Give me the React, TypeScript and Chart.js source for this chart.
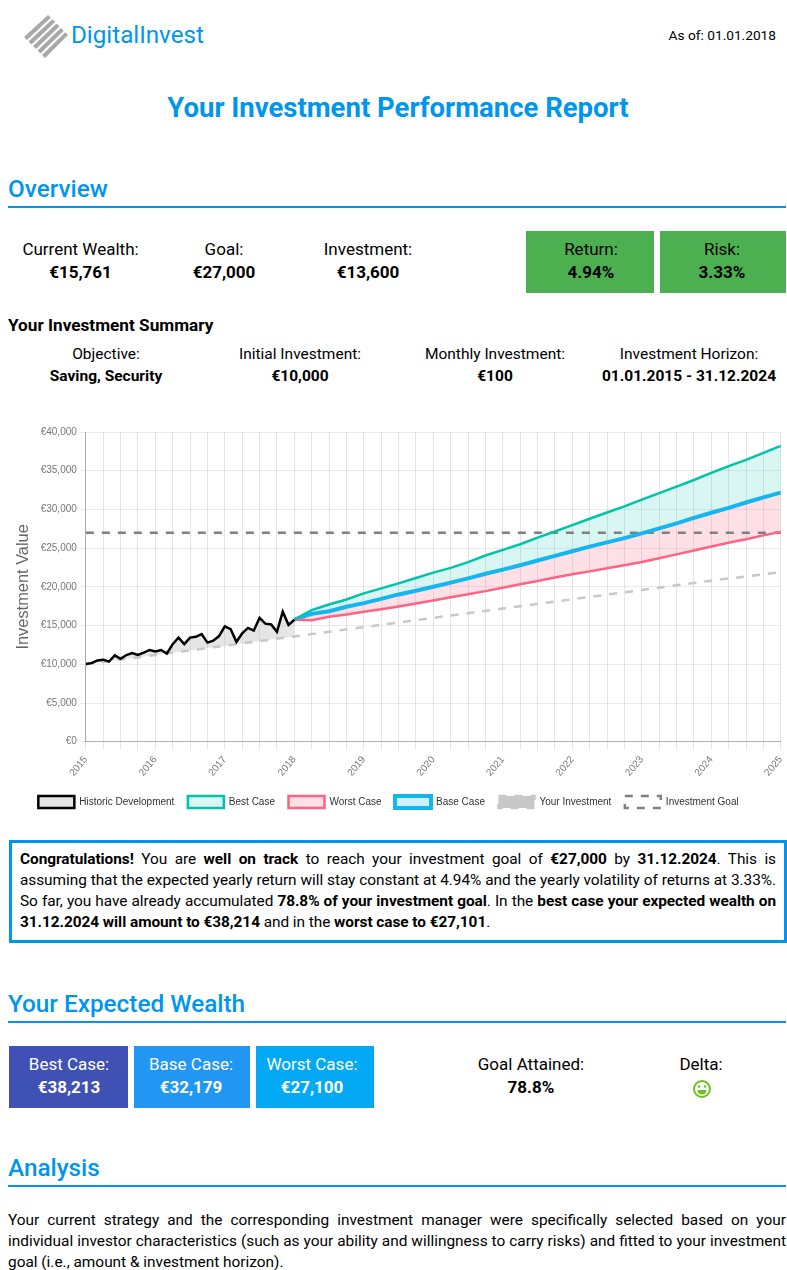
import React, { useEffect, useRef } from "react";
import { Chart, registerables } from "chart.js";

Chart.register(...registerables);

const historicMonths = [0,1,2,3,4,5,6,7,8,9,10,11,12,13,14,15,16,17,18,19,20,21,22,23,24,25,26,27,28,29,30,31,32,33,34,35,36];
const historicValues = [10050,10150,10500,10600,10350,11150,10700,11200,11450,11200,11500,11850,11650,11850,11400,12600,13450,12600,13450,13550,13900,12800,13050,13650,14900,14550,12900,14000,14700,14350,16000,15250,15150,14200,16800,15100,15761];
const forecastMonths = [36,39,42,45,48,51,54,57,60,63,66,69,72,75,78,81,84,87,90,93,96,99,102,105,108,111,114,117,120];
const bestValues = [15761,16990,17730,18377,19155,19800,20450,21150,21836,22450,23200,24050,24776,25500,26350,27150,27976,28800,29600,30400,31260,32100,32950,33800,34720,35600,36400,37300,38214];
const baseValues = [15761,16517,16860,17425,17900,18450,19025,19500,20020,20550,21100,21700,22225,22800,23400,24000,24600,25200,25750,26300,26900,27550,28200,28900,29570,30200,30900,31550,32180];
const worstValues = [15761,15700,16130,16430,16780,17100,17470,17850,18250,18650,19050,19450,19890,20350,20750,21200,21620,22000,22400,22800,23220,23700,24200,24700,25210,25700,26150,26650,27101];
const investmentMonths = [0,12,24,36,48,60,72,84,96,108,120];
const investmentValues = [10000,11200,12400,13600,14800,16000,17200,18400,19600,20800,21900];
const goalMonths = [0,120];
const goalValues = [27000,27000];
const yearLabels = ["2015","2016","2017","2018","2019","2020","2021","2022","2023","2024","2025"];

const overviewStats = [
  { label: "Current Wealth:", value: "€15,761", cx: 80.5 },
  { label: "Goal:", value: "€27,000", cx: 224 },
  { label: "Investment:", value: "€13,600", cx: 368 },
];
const summaryStats = [
  { label: "Objective:", value: "Saving, Security", cx: 106 },
  { label: "Initial Investment:", value: "€10,000", cx: 300 },
  { label: "Monthly Investment:", value: "€100", cx: 495 },
  { label: "Investment Horizon:", value: "01.01.2015 - 31.12.2024", cx: 689 },
];

const BLUE = "#0096ee";
const SANS = "'Liberation Sans', Arial, sans-serif";

function pts(xs: number[], ys: number[]) {
  return xs.map((x, i) => ({ x, y: ys[i] }));
}

const T = ({ x, y, w, align, size, bold, color, children, weight }: any) => (
  <div
    style={{
      position: "absolute",
      left: x,
      top: y,
      width: w,
      textAlign: align || "left",
      fontSize: size,
      fontWeight: weight || (bold ? 700 : 400),
      color: color || "#000",
      whiteSpace: "nowrap",
      lineHeight: `${Math.round(size * 1.3)}px`,
    }}
  >
    {children}
  </div>
);

const Stat = ({ cx, top, gap, size, label, value, color }: any) => (
  <>
    <T x={cx - 110} y={top} w={220} align="center" size={size} color={color}>{label}</T>
    <T x={cx - 110} y={top + gap} w={220} align="center" size={size} bold color={color}>{value}</T>
  </>
);

const Heading = ({ top, children }: any) => (
  <>
    <T x={8} y={top} size={24.3} weight={500} color={BLUE}>{children}</T>
    <div style={{ position: "absolute", left: 8, top: top + 33, width: 778, height: 2, background: BLUE }} />
  </>
);

const Box = ({ x, y, w, h, bg }: any) => (
  <div style={{ position: "absolute", left: x, top: y, width: w, height: h, background: bg }} />
);

const shiftLegend = {
  id: "shiftLegend",
  afterLayout(chart: any) {
    chart.legend.left -= 12.5;
    chart.legend.right -= 12.5;
  },
};

export default function App() {
  const ref = useRef<HTMLCanvasElement>(null);

  useEffect(() => {
    const chart = new Chart(ref.current!, {
      type: "line",
      plugins: [shiftLegend],
      data: {
        datasets: [
          { label: "Historic Development", data: pts(historicMonths, historicValues), borderColor: "#000", backgroundColor: "rgba(180,180,180,0.35)", borderWidth: 2.5, fill: 4, tension: 0, pointRadius: 0 },
          { label: "Best Case", data: pts(forecastMonths, bestValues), borderColor: "rgb(0,196,170)", backgroundColor: "rgba(0,196,170,0.15)", borderWidth: 2.5, fill: 3, tension: 0, pointRadius: 0 },
          { label: "Worst Case", data: pts(forecastMonths, worstValues), borderColor: "rgb(255,99,132)", backgroundColor: "rgba(255,99,132,0.2)", borderWidth: 2.5, fill: 3, tension: 0, pointRadius: 0 },
          { label: "Base Case", data: pts(forecastMonths, baseValues), borderColor: "rgb(20,182,240)", backgroundColor: "rgba(20,182,240,0.2)", borderWidth: 4, fill: false, tension: 0, pointRadius: 0 },
          { label: "Your Investment", data: pts(investmentMonths, investmentValues), borderColor: "rgb(200,200,200)", backgroundColor: "rgb(200,200,200)", borderWidth: 2.5, borderDash: [8, 8], fill: false, tension: 0, pointRadius: 0 },
          { label: "Investment Goal", data: pts(goalMonths, goalValues), borderColor: "rgb(128,128,128)", backgroundColor: "rgba(0,0,0,0)", borderWidth: 2.5, borderDash: [8, 8], fill: false, tension: 0, pointRadius: 0 },
        ],
      },
      options: {
        animation: false,
        responsive: false,
        maintainAspectRatio: false,
        parsing: false,
        layout: { padding: { left: 0, right: 0, top: 5, bottom: 0 } },
        plugins: {
          tooltip: { enabled: false },
          filler: { drawTime: "beforeDatasetsDraw" },
          legend: {
            position: "bottom",
            labels: { boxWidth: 36, boxHeight: 12, padding: 13.5, color: "#333", font: { size: 10, family: SANS } },
          },
        },
        scales: {
          x: {
            type: "linear",
            min: 0,
            max: 120,
            border: { color: "rgba(0,0,0,0.25)" },
            ticks: {
              stepSize: 3,
              autoSkip: false,
              maxRotation: 50,
              minRotation: 50,
              padding: 4,
              color: "#777",
              font: { size: 10, family: SANS },
              callback: (v: any) => (Number(v) % 12 === 0 ? yearLabels[Number(v) / 12] : ""),
            },
            grid: { color: "rgba(0,0,0,0.1)" },
          },
          y: {
            min: 0,
            max: 40000,
            border: { color: "rgba(0,0,0,0.25)" },
            title: { display: true, text: "Investment Value", color: "#666", padding: { top: 6, bottom: 4 }, font: { size: 16.4, family: SANS } },
            ticks: {
              stepSize: 5000,
              color: "#777",
              font: { size: 10, family: SANS },
              callback: (v: any) => "€" + Number(v).toLocaleString("en-US"),
            },
            grid: { color: "rgba(0,0,0,0.08)", tickLength: 6 },
          },
        },
      },
    } as any);
    return () => chart.destroy();
  }, []);

  return (
    <div style={{ position: "absolute", left: 0, top: 0, width: 787, height: 1270, overflow: "hidden", background: "#fff", fontFamily: "Roboto, sans-serif" }}>
      <svg style={{ position: "absolute", left: 24, top: 14 }} width="45" height="46" viewBox="0 0 45 46">
        <g fill="#a8a8a8">
          <polygon points="0,23 2.9,25.9 26.8,3.8 24,1" />
          <polygon points="4.5,27.5 7.5,30.5 31.1,8.1 28.3,5.3" />
          <polygon points="9,32 12,35 35.4,12.4 32.6,9.6" />
          <polygon points="13.5,36.5 16.5,39.5 39.7,16.7 36.9,13.9" />
          <polygon points="18,41 21,44 44,21 41.2,18.2" />
        </g>
      </svg>
      <T x={71} y={20} size={24.2} weight={400} color={BLUE}>DigitalInvest</T>
      <T x={569} y={26} w={207} align="right" size={13.7}>As of: 01.01.2018</T>
      <T x={0} y={90} w={796} align="center" size={27.5} weight={700} color={BLUE}>Your Investment Performance Report</T>

      <Heading top={173}>Overview</Heading>
      {overviewStats.map((s) => (
        <Stat key={s.label} cx={s.cx} top={238} gap={23} size={17} label={s.label} value={s.value} />
      ))}
      <Box x={526} y={231} w={128} h={62} bg="#4caf50" />
      <Box x={660} y={231} w={126} h={62} bg="#4caf50" />
      <Stat cx={591} top={238} gap={23} size={17} label="Return:" value="4.94%" />
      <Stat cx={722} top={238} gap={23} size={17} label="Risk:" value="3.33%" />

      <T x={8} y={314} size={17.2} bold>Your Investment Summary</T>
      {summaryStats.map((s) => (
        <Stat key={s.label} cx={s.cx} top={344} gap={22} size={15.5} label={s.label} value={s.value} />
      ))}

      <canvas ref={ref} width={786} height={395} style={{ position: "absolute", left: 8, top: 423, width: 786, height: 395 }} />

      <div style={{ position: "absolute", left: 9, top: 840, width: 778, height: 103, boxSizing: "border-box", border: `3px solid ${BLUE}`, padding: "6px 8px", fontSize: 15.4, letterSpacing: "-0.05px", lineHeight: "21px", textAlign: "justify", color: "#000" }}>
        <b>Congratulations!</b> You are <b>well on track</b> to reach your investment goal of <b>€27,000</b> by <b>31.12.2024</b>. This is assuming that the expected yearly return will stay constant at 4.94% and the yearly volatility of returns at 3.33%. So far, you have already accumulated <b>78.8% of your investment goal</b>. In the <b>best case your expected wealth on 31.12.2024 will amount to €38,214</b> and in the <b>worst case to €27,101</b>.
      </div>

      <Heading top={988}>Your Expected Wealth</Heading>
      <Box x={9} y={1046} w={119} h={62} bg="#3f51b5" />
      <Box x={134} y={1046} w={116} h={62} bg="#2196f3" />
      <Box x={256} y={1046} w={118} h={62} bg="#03a9f4" />
      <Stat cx={69} top={1053} gap={23} size={17} label="Best Case:" value="€38,213" color="#fff" />
      <Stat cx={191} top={1053} gap={23} size={17} label="Base Case:" value="€32,179" color="#fff" />
      <Stat cx={312} top={1053} gap={23} size={17} label="Worst Case:" value="€27,100" color="#fff" />
      <Stat cx={531} top={1053} gap={23} size={17} label="Goal Attained:" value="78.8%" />
      <T x={590} y={1053} w={222} align="center" size={17}>Delta:</T>
      <svg style={{ position: "absolute", left: 692, top: 1078 }} width="20" height="22" viewBox="0 0 20 22">
        <circle cx="10" cy="11" r="8" fill="#fff" stroke="#66c41e" strokeWidth="2" />
        <circle cx="7" cy="8.5" r="1.3" fill="#66c41e" />
        <circle cx="13" cy="8.5" r="1.3" fill="#66c41e" />
        <path d="M5.5 12 H14.5 A4.5 4.5 0 0 1 5.5 12 Z" fill="#66c41e" />
      </svg>

      <Heading top={1152}>Analysis</Heading>
      <div style={{ position: "absolute", left: 8, top: 1210, width: 778, fontSize: 15.4, lineHeight: "21px", textAlign: "justify", color: "#000" }}>
        Your current strategy and the corresponding investment manager were specifically selected based on your individual investor characteristics (such as your ability and willingness to carry risks) and fitted to your investment goal (i.e., amount &amp; investment horizon).
      </div>
    </div>
  );
}
